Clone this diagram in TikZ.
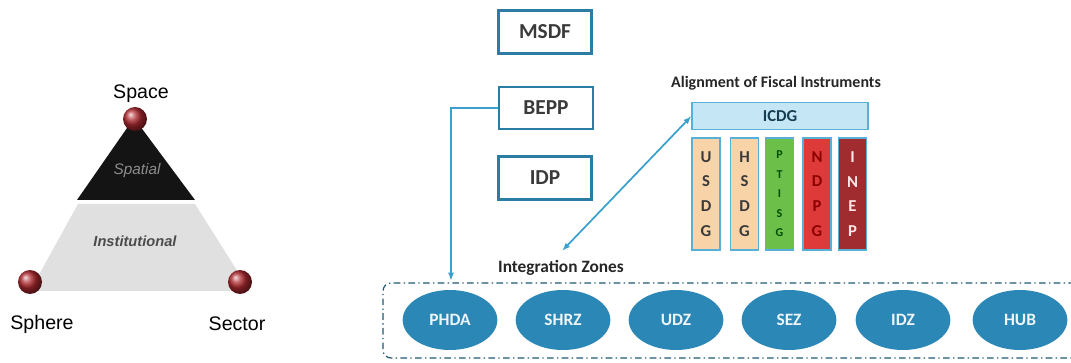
\documentclass[tikz,border=0pt]{standalone}
\usepackage{fontspec}
\setmainfont{Carlito}
\newfontfamily\arialfont{Liberation Sans}
\usetikzlibrary{arrows.meta,positioning,calc,shapes.geometric}
\definecolor{planblue}{HTML}{2B7DA3}
\definecolor{linkblue}{HTML}{3AA0CC}
\definecolor{icdgfill}{HTML}{C5E6F5}
\definecolor{icdgline}{HTML}{56B0D8}
\definecolor{peach}{HTML}{F9D3A8}
\definecolor{leafgreen}{HTML}{6CC04A}
\definecolor{brickred}{HTML}{DF3A3A}
\definecolor{maroon}{HTML}{A02C30}
\definecolor{zoneblue}{HTML}{2B87B5}
\definecolor{ballred}{HTML}{B02A30}
\definecolor{boxtext}{HTML}{3A3A3A}
\tikzset{link edge/.style={draw=linkblue, line width=1.3pt}}
\tikzset{plan box/.style={draw=planblue, line width=2.2pt, fill=white, minimum width=70pt, minimum height=32pt, inner sep=0pt, font=\fontsize{16}{18}\selectfont\bfseries, text=boxtext}}
\tikzset{plan thin/.style={plan box, line width=1.4pt}}
\tikzset{col box/.style={draw=icdgline, line width=0.8pt, minimum width=21pt, minimum height=84pt, inner sep=0pt, align=center, font=\fontsize{12.5}{18.6}\selectfont\bfseries}}
\tikzset{zone node/.style={ellipse, fill=zoneblue, minimum width=71pt, minimum height=45pt, inner sep=0pt, font=\fontsize{13}{15}\selectfont\bfseries, text=white!92!zoneblue}}
\tikzset{corner ball/.style={circle, minimum size=18pt, inner sep=0pt, shading=ball, ball color=ballred}}
\tikzset{corner label/.style={font=\arialfont\fontsize{14.7}{16}\selectfont, text=black}}
\tikzset{head label/.style={font=\fontsize{13}{15}\selectfont\bfseries, text=black!85}}

\begin{document}
\begin{tikzpicture}[x=0.75pt,y=-0.75pt]
		\useasboundingbox (0,0) rectangle (1071,363);

		% triad on the left
		\fill[black!12] (78,204) -- (195,204) -- (250,291) -- (30,291) -- cycle;
		\fill[black!92] (134,118) -- (195,200) -- (77,200) -- cycle;
		\node[font=\arialfont\fontsize{11.5}{13}\selectfont\itshape, text=black!45] (spatial) at (137,171) {Spatial};
		\node[font=\arialfont\fontsize{11}{13}\selectfont\bfseries\itshape, text=black!70] (inst) at (135,241) {Institutional};
		\node[corner ball] (space) at (135,119) {};
		\node[corner ball] (sphere) at (30,282) {};
		\node[corner ball] (sector) at (240,282) {};
		\node[corner label] at (141,94) {Space};
		\node[corner label] at (42,324) {Sphere};
		\node[corner label] at (237,324) {Sector};

		% planning instruments
		\node[plan box] (msdf) at (545,32) {MSDF};
		\node[plan thin] (bepp) at (546,108) {BEPP};
		\node[plan box] (idp) at (545,178) {IDP};

		% fiscal instruments
		\node[head label, font=\fontsize{12}{14}\selectfont\bfseries] (align) at (776,83) {Alignment of Fiscal Instruments};
		\node[draw=icdgline, fill=icdgfill, line width=0.8pt, minimum width=132pt, minimum height=20pt, inner sep=0pt, font=\fontsize{12.5}{14}\selectfont\bfseries, text=planblue!50!black] (icdg) at (780,116) {ICDG};
		\node[col box, fill=peach, text=boxtext] (usdg) at (706,194) {U\\S\\D\\G};
		\node[col box, fill=peach, text=boxtext] (hsdg) at (744.5,194) {H\\S\\D\\G};
		\node[col box, fill=leafgreen, text=green!30!black, font=\fontsize{9}{14.6}\selectfont\bfseries] (ptisg) at (779.5,194) {P\\T\\I\\S\\G};
		\node[col box, fill=brickred, text=red!55!black] (ndpg) at (817,194) {N\\D\\P\\G};
		\node[col box, fill=maroon, text=red!10] (inep) at (852.5,194) {I\\N\\E\\P};

		% integration zones
		\node[head label] (izlabel) at (561,268) {Integration Zones};
		\draw[planblue!70!black, line width=0.9pt, dash pattern=on 5pt off 2.5pt on 1pt off 2.5pt, rounded corners=6pt] (1075,283) -- (383,283) -- (383,358) -- (1075,358);
		\node[zone node] (phda) at (450,320) {PHDA};
		\node[zone node] (shrz) at (563,320) {SHRZ};
		\node[zone node] (udz) at (676,320) {UDZ};
		\node[zone node] (sez) at (789,320) {SEZ};
		\node[zone node] (idz) at (903,320) {IDZ};
		\node[zone node] (hub) at (1020,320) {HUB};

		% links
		\coordinate (zonetop) at (451,281);
		\coordinate (zonetip) at (562,251);
		\draw[link edge, -{Latex[length=2.2mm,width=1.6mm]}] (bepp.west) -| (zonetop);
		\draw[link edge, {Latex[length=2.2mm,width=1.6mm]}-{Latex[length=2.2mm,width=1.6mm]}] (icdg.west) -- (zonetip);
	\end{tikzpicture}
\end{document}
